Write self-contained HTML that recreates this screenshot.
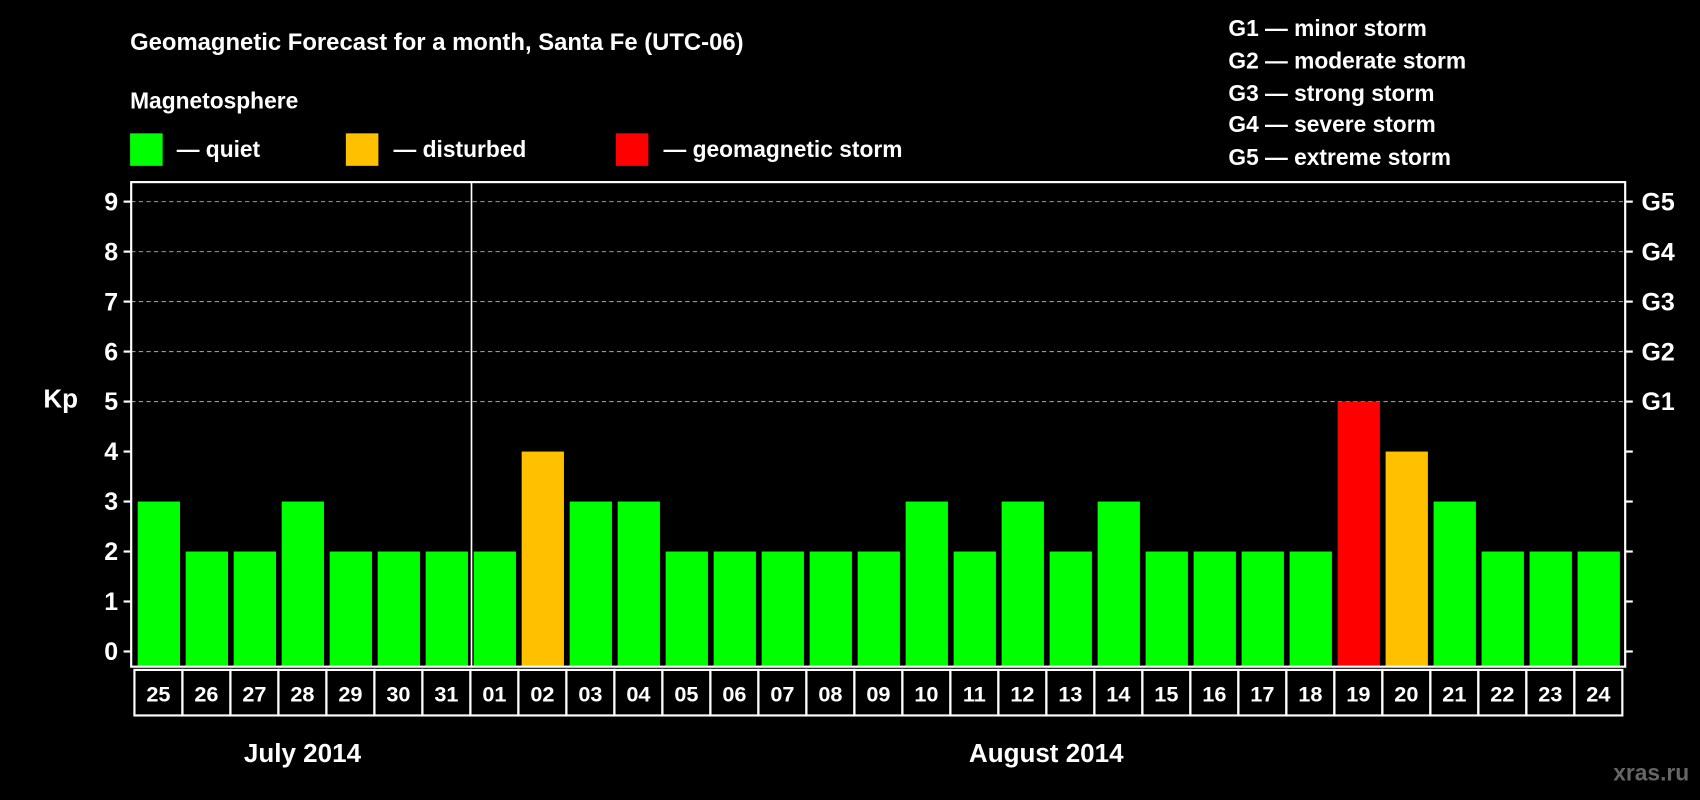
<!DOCTYPE html>
<html><head><meta charset="utf-8"><style>
html,body{margin:0;padding:0;background:#000;}
svg{display:block;font-family:"Liberation Sans",Arial,sans-serif;font-weight:bold;}
</style></head><body>
<svg id="c" width="1700" height="800" viewBox="0 0 1568 738" preserveAspectRatio="none">
<rect width="1568" height="738" fill="#000"/>
<text x="120" y="46" fill="#fff" font-size="22">Geomagnetic Forecast for a month, Santa Fe (UTC-06)</text>
<text x="120" y="100" fill="#fff" font-size="21">Magnetosphere</text>
<rect x="120" y="123" width="30" height="30" fill="#00ff00"/>
<text x="163" y="145" fill="#fff" font-size="21">— quiet</text>
<rect x="319" y="123" width="30" height="30" fill="#ffc000"/>
<text x="363" y="145" fill="#fff" font-size="21">— disturbed</text>
<rect x="568" y="123" width="30" height="30" fill="#ff0000"/>
<text x="612" y="145" fill="#fff" font-size="21">— geomagnetic storm</text>
<g fill="#fff" font-size="21">
<text x="1133" y="33">G1 — minor storm</text>
<text x="1133" y="63">G2 — moderate storm</text>
<text x="1133" y="93">G3 — strong storm</text>
<text x="1133" y="122">G4 — severe storm</text>
<text x="1133" y="152">G5 — extreme storm</text>
</g>
<text x="40" y="376" fill="#fff" font-size="24">Kp</text>
<text x="279" y="703" fill="#fff" font-size="24" text-anchor="middle">July 2014</text>
<text x="965" y="703" fill="#fff" font-size="24" text-anchor="middle">August 2014</text>
<text x="1558" y="720" fill="#666" font-size="21" text-anchor="end">xras.ru</text>
<g id="plot"></g>
</svg>
<script>
const days=["25","26","27","28","29","30","31","01","02","03","04","05","06","07","08","09","10","11","12","13","14","15","16","17","18","19","20","21","22","23","24"];
const kp=[3,2,2,3,2,2,2,2,4,3,3,2,2,2,2,2,3,2,3,2,3,2,2,2,2,5,4,3,2,2,2];
const yTicks=[0,1,2,3,4,5,6,7,8,9];
const gLabels=["","","","","","G1","G2","G3","G4","G5"];
const NS="http://www.w3.org/2000/svg";
const g=document.getElementById('plot');
const L=121,R=1499,T=168,B=615;
const y=v=>601-v*46.11;
const slot=44.27,x0=124;
const bx=i=>x0+i*slot;
function mk(t,a){const e=document.createElementNS(NS,t);for(const k in a)e.setAttribute(k,a[k]);g.appendChild(e);return e;}
yTicks.forEach(v=>{
  if(v>=5){const d=mk('line',{x1:L,x2:R,y1:y(v),y2:y(v),stroke:'#999','stroke-dasharray':'4,3','stroke-width':1});
  
  }
  const t1=mk('line',{x1:L-7,x2:L,y1:y(v),y2:y(v),stroke:'#fff','stroke-width':2});
  
  
  const t2=mk('line',{x1:R,x2:R+7,y1:y(v),y2:y(v),stroke:'#fff','stroke-width':2});
  
  
  const l=mk('text',{x:L-12,y:y(v)+8,fill:'#fff','font-size':23,'text-anchor':'end'});l.textContent=v;
  
  
  if(gLabels[v]){const gl=mk('text',{x:R+15,y:y(v)+8,fill:'#fff','font-size':23});gl.textContent=gLabels[v];
  
  }
});
kp.forEach((v,i)=>{
  const c=v>=5?'#ff0000':(v>=4?'#ffc000':'#00ff00');
  const r=mk('rect',{x:bx(i)+3,y:y(v),width:39,height:B-y(v),fill:c});
  
  
  const b=mk('rect',{x:bx(i),y:618,width:slot,height:42,fill:'none',stroke:'#fff','stroke-width':2});
  
  
  const t=mk('text',{x:bx(i)+slot/2,y:647,fill:'#fff','font-size':20,'text-anchor':'middle'});t.textContent=days[i];
  
  
});
const div=mk('line',{x1:bx(7)+1,x2:bx(7)+1,y1:T,y2:B,stroke:'#fff','stroke-width':1.5});


const fr=mk('rect',{x:L,y:T,width:R-L,height:B-T,fill:'none',stroke:'#fff','stroke-width':2});


</script>
</body></html>
